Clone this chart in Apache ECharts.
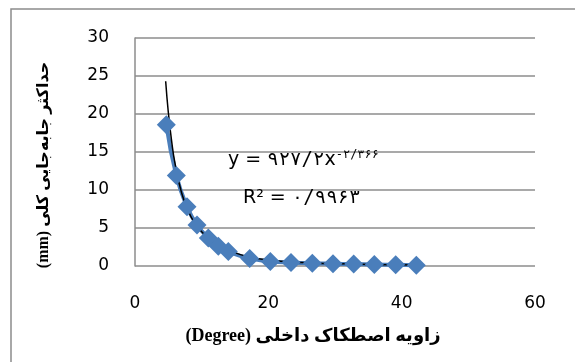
<!DOCTYPE html>
<html>
<head>
<meta charset="utf-8">
<script src="https://cdn.jsdelivr.net/npm/echarts@6/dist/echarts.min.js"></script>
<style>
  html, body { margin: 0; padding: 0; background: #fff; }
  #chart { width: 575px; height: 362px; }
</style>
</head>
<body>
<div id="chart"></div>
<script>
// داده‌های خوانده‌شده از نمودار
const frictionAngle = [4.7, 6.2, 7.8, 9.3, 11, 12.5, 14, 17.2, 20.3, 23.4, 26.6, 29.7, 32.8, 35.9, 39.1, 42.2]
const maxDisp = [18.6, 11.9, 7.8, 5.4, 3.7, 2.6, 1.9, 1.0, 0.6, 0.45, 0.35, 0.3, 0.25, 0.2, 0.15, 0.1]

// خط روند (خوانده‌شده از تصویر)
const trendX = [4.6, 5, 5.5, 6, 7, 8, 9, 10, 12, 14, 17, 20, 25, 30, 35, 42.4]
const trendY = [24.3, 20.2, 16.4, 13.5, 9.6, 7.2, 5.6, 4.5, 2.9, 2.1, 1.2, 0.8, 0.45, 0.3, 0.2, 0.13]

const xTicks = [0, 20, 40, 60]
const yTicks = [0, 5, 10, 15, 20, 25, 30]

const myChart = echarts.init(document.getElementById('chart'))

// canvas متن را LTR می‌چیند، پس بخش لاتین اول آمده
const xName = '(Degree) زاویه اصطکاک داخلی'
const yName = '(mm) حداکثر جابه‌جایی کلی'

const option = {
  animation: false,
  grid: { left: 135, right: 40, top: 38, bottom: 96 },
  graphic: [
    {
      type: 'rect',
      shape: { x: 11, y: 9, width: 620, height: 420 },
      style: { fill: 'none', stroke: '#8c8c8c', lineWidth: 1.5 },
      silent: true
    },
    {
      type: 'text',
      left: 228,
      top: 149,
      style: {
        text: 'y = {num|۹۲۷/۲}x{sup|-۲/۳۶۶}',
        fontFamily: 'DejaVu Sans',
        fontSize: 19,
        fill: '#000',
        rich: {
          num: { fontSize: 19, fontFamily: 'DejaVu Sans Mono, DejaVu Sans' },
          sup: { fontSize: 12, verticalAlign: 'top', padding: [0, 0, 10, 0], fontFamily: 'DejaVu Sans Mono, DejaVu Sans' }
        }
      },
      z: 100
    },
    {
      type: 'text',
      left: 243,
      top: 189,
      style: {
        text: 'R² = {num|۰/۹۹۶۳}',
        fontFamily: 'DejaVu Sans',
        fontSize: 19,
        fill: '#000',
        rich: {
          num: { fontSize: 19, fontFamily: 'DejaVu Sans Mono, DejaVu Sans' }
        }
      },
      z: 100
    }
  ],
  xAxis: {
    type: 'value',
    min: xTicks[0],
    max: xTicks[xTicks.length - 1],
    interval: 20,
    name: xName,
    nameLocation: 'middle',
    nameGap: 61,
    nameTextStyle: {
      fontFamily: 'Liberation Serif, DejaVu Sans',
      fontWeight: 'bold',
      fontSize: 18,
      color: '#000',
      padding: [0, 44, 0, 0]
    },
    axisLine: { show: false },
    axisTick: { show: false },
    splitLine: { show: false },
    axisLabel: {
      margin: 29,
      fontFamily: 'DejaVu Sans',
      fontSize: 17,
      color: '#000'
    }
  },
  yAxis: {
    type: 'value',
    min: yTicks[0],
    max: yTicks[yTicks.length - 1],
    interval: 5,
    name: yName,
    nameLocation: 'middle',
    nameGap: 83,
    nameTextStyle: {
      fontFamily: 'Liberation Serif, DejaVu Sans',
      fontWeight: 'bold',
      fontSize: 16,
      color: '#000',
      padding: [0, 26, 0, 0]
    },
    axisLine: { show: true, lineStyle: { color: '#8c8c8c', width: 1.5 } },
    axisTick: { show: false },
    splitLine: { lineStyle: { color: '#8c8c8c', width: 1.5 } },
    axisLabel: {
      margin: 26,
      padding: [6, 0, 0, 0],
      fontFamily: 'DejaVu Sans',
      fontSize: 17,
      color: '#000'
    }
  },
  series: [
    {
      name: 'data',
      type: 'line',
      data: frictionAngle.map((x, i) => [x, maxDisp[i]]),
      smooth: true,
      symbol: 'diamond',
      symbolSize: 19,
      itemStyle: { color: '#4a7ebb' },
      lineStyle: { color: '#4a7ebb', width: 4 }
    },
    {
      name: 'trend',
      type: 'line',
      data: trendX.map((x, i) => [x, trendY[i]]),
      smooth: true,
      showSymbol: false,
      lineStyle: { color: '#000', width: 1.5 }
    }
  ]
}

myChart.setOption(option)
</script>
</body>
</html>
